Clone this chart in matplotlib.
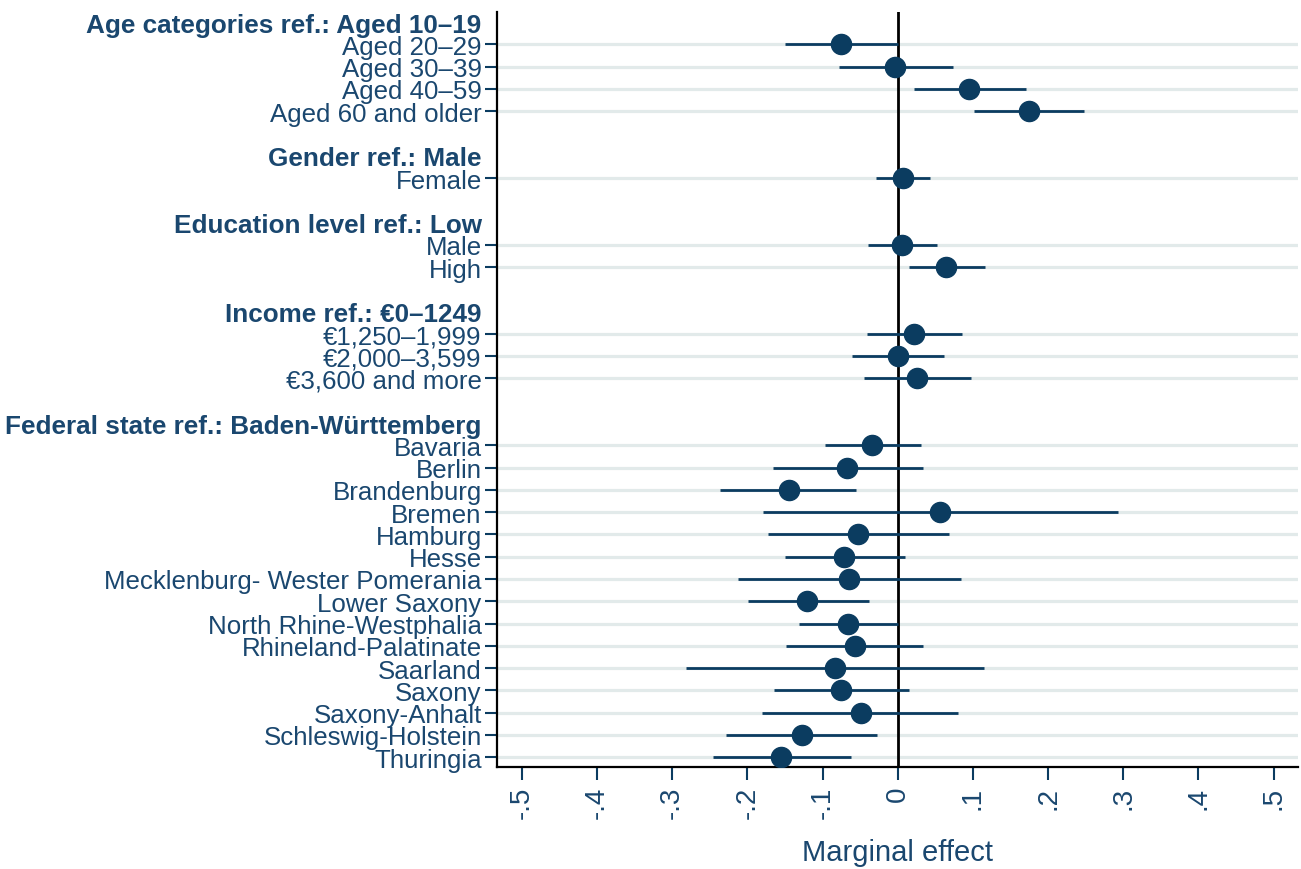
import matplotlib
matplotlib.use("Agg")
import matplotlib.pyplot as plt
import numpy as np

plt.rcParams['font.family'] = ['Liberation Sans', 'DejaVu Sans']

# ---- data ----
headers = {
    0: "Age categories ref.: Aged 10\u201319",
    6: "Gender ref.: Male",
    9: "Education level ref.: Low",
    13: "Income ref.: \u20ac0\u20131249",
    18: "Federal state ref.: Baden-W\u00fcrttemberg",
}
labels = ["Aged 20\u201329", "Aged 30\u201339", "Aged 40\u201359", "Aged 60 and older",
          "Female",
          "Male", "High",
          "\u20ac1,250\u20131,999", "\u20ac2,000\u20133,599", "\u20ac3,600 and more",
          "Bavaria", "Berlin", "Brandenburg", "Bremen", "Hamburg", "Hesse",
          "Mecklenburg- Wester Pomerania", "Lower Saxony", "North Rhine-Westphalia",
          "Rhineland-Palatinate", "Saarland", "Saxony", "Saxony-Anhalt",
          "Schleswig-Holstein", "Thuringia"]
rows = [1, 2, 3, 4, 7, 10, 11, 14, 15, 16] + list(range(19, 34))
estimate = [-0.076, -0.004, 0.095, 0.175,
            0.007,
            0.006, 0.064,
            0.022, 0.000, 0.026,
            -0.034, -0.067, -0.145, 0.056, -0.053, -0.071, -0.065, -0.120,
            -0.066, -0.057, -0.084, -0.075, -0.049, -0.127, -0.155]
ci_low = [-0.150, -0.078, 0.022, 0.102,
          -0.029,
          -0.039, 0.015,
          -0.041, -0.061, -0.045,
          -0.097, -0.166, -0.236, -0.179, -0.172, -0.150, -0.213, -0.199,
          -0.131, -0.149, -0.281, -0.164, -0.180, -0.228, -0.245]
ci_high = [0.000, 0.073, 0.171, 0.248,
           0.043,
           0.052, 0.116,
           0.086, 0.062, 0.097,
           0.031, 0.034, -0.055, 0.293, 0.068, 0.010, 0.084, -0.038,
           0.000, 0.034, 0.115, 0.015, 0.080, -0.027, -0.062]
xticks = [-0.5, -0.4, -0.3, -0.2, -0.1, 0, 0.1, 0.2, 0.3, 0.4, 0.5]
xticklabels = ["-.5", "-.4", "-.3", "-.2", "-.1", "0", ".1", ".2", ".3", ".4", ".5"]

navy = '#0b3c60'
text_c = '#1a476f'
grid_c = '#e2eaea'

fig = plt.figure(figsize=(13.01, 8.70), dpi=100)
ax = fig.add_axes([0.382, 0.117, 0.616, 0.868])

for r in rows:
    ax.axhline(r, color=grid_c, lw=2.3, zorder=0)
ax.axvline(0, color='black', lw=2.0, zorder=1)
ax.hlines(rows, ci_low, ci_high, color=navy, lw=2.0, zorder=2)
ax.plot(estimate, rows, 'o', color=navy, markersize=14.5, zorder=3, linestyle='none')

ax.set_xlim(-0.533, 0.533)
ax.set_ylim(33.45, -0.45)

all_ticks = sorted(list(headers.keys()) + rows)
lab_map = dict(zip(rows, labels))
lab_map.update(headers)
ax.set_yticks(all_ticks)
ax.set_yticklabels([lab_map[t] for t in all_ticks], fontsize=18.6, color=text_c)
for tick, t in zip(ax.yaxis.get_major_ticks(), all_ticks):
    if t in headers:
        tick.tick1line.set_visible(False)
        tick.label1.set_fontweight('bold')
        tick.label1.set_fontsize(18.8)
ax.tick_params(axis='y', length=9, width=1.5, color=navy, pad=2)

ax.set_xticks(xticks)
ax.set_xticklabels(xticklabels, rotation=90, fontsize=20, color=text_c)
ax.tick_params(axis='x', length=9.5, width=1.5, color=navy, pad=4)
ax.set_xlabel("Marginal effect", fontsize=21, color=text_c, labelpad=14)

for s in ['top', 'right']:
    ax.spines[s].set_visible(False)
for s in ['left', 'bottom']:
    ax.spines[s].set_linewidth(1.6)
    ax.spines[s].set_color('black')

fig.savefig("out.png", dpi=100)
